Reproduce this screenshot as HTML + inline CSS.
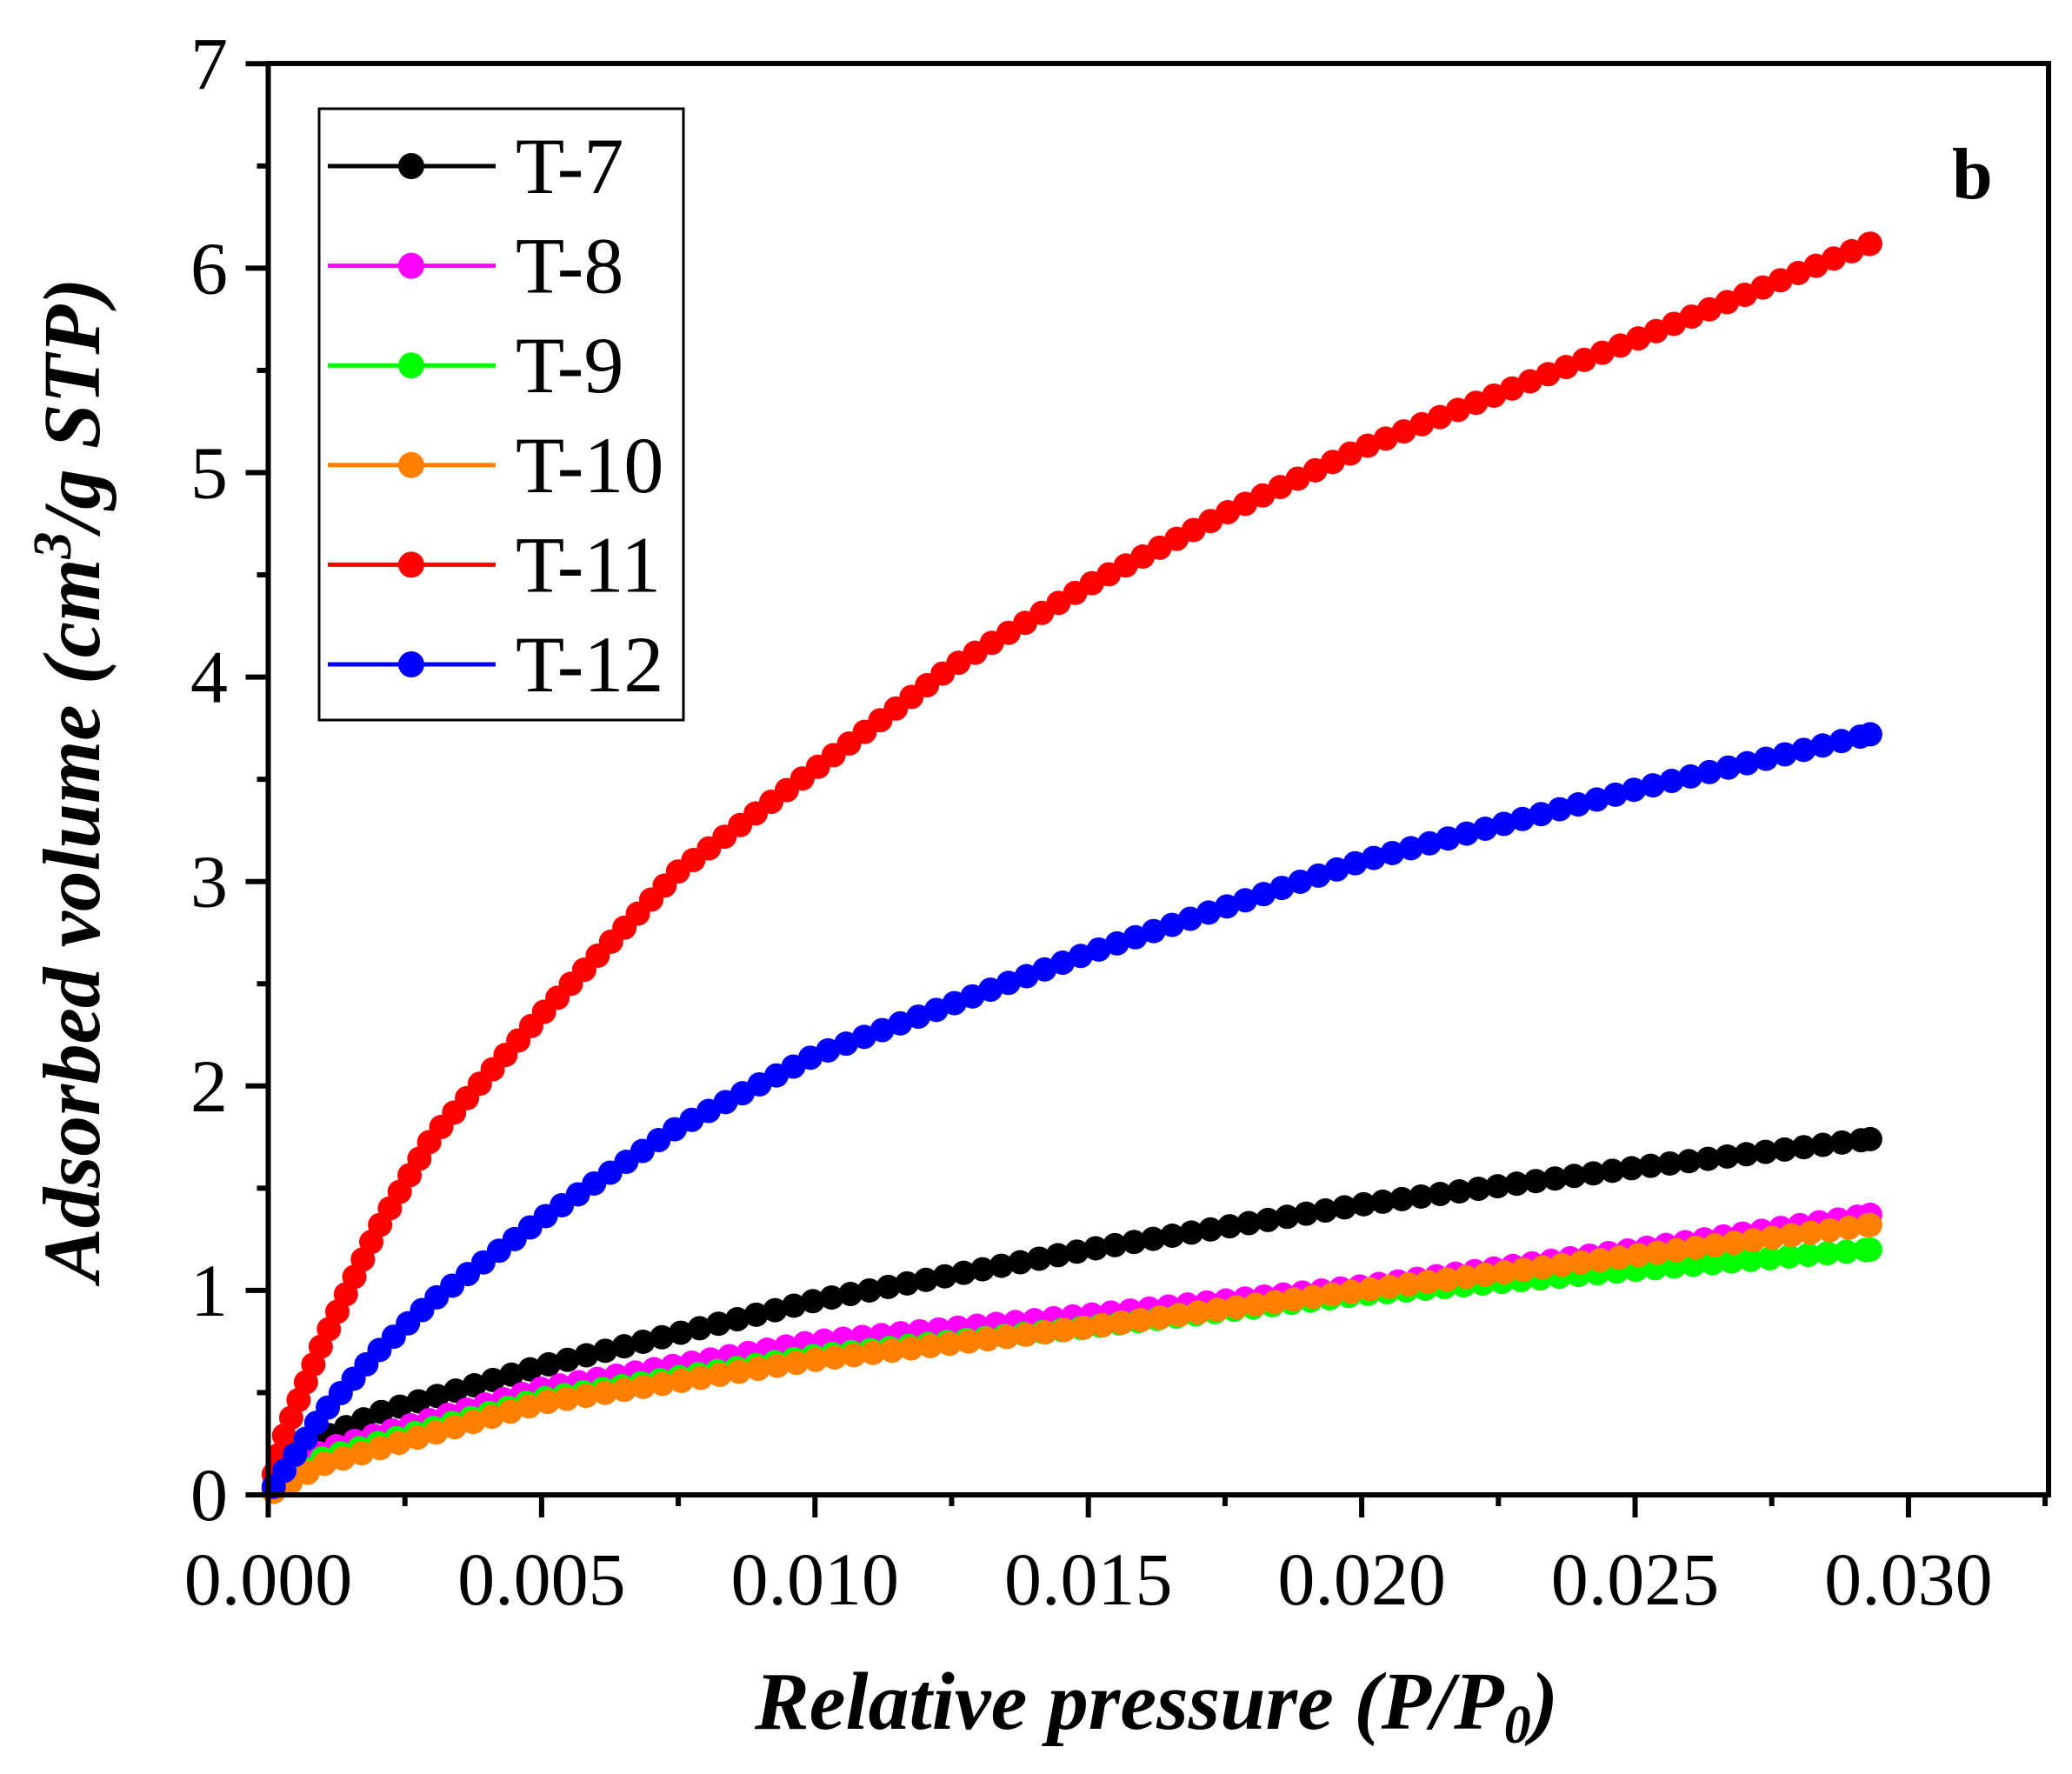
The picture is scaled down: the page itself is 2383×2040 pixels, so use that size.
<!DOCTYPE html>
<html><head><meta charset="utf-8"><style>
html,body{margin:0;padding:0;background:#fff;}
svg{display:block;}
text{font-family:"Liberation Serif",serif;fill:#000;}
</style></head><body>
<svg id="s" width="2383" height="2040" viewBox="0 0 2383 2040" xmlns="http://www.w3.org/2000/svg">
<rect width="2383" height="2040" fill="#fff"/>
<g id="curves"></g>
<rect x="308.5" y="73" width="2047.5" height="1646" fill="none" stroke="#000" stroke-width="6"/>
<g id="ticks" stroke="#000" stroke-width="6"></g>
<g id="labels" font-size="86"></g>
<text x="1330" y="1988" font-size="94" font-weight="bold" font-style="italic" text-anchor="middle">Relative pressure (P/P<tspan font-size="62" dy="16">0</tspan><tspan dy="-16">)</tspan></text>
<text transform="translate(114,897) rotate(-90)" font-size="93" font-weight="bold" font-style="italic" text-anchor="middle">Adsorbed volume (cm<tspan font-size="62" dy="-33">3</tspan><tspan dy="33">/g STP)</tspan></text>
<text x="2245" y="228" font-size="84" font-weight="bold">b</text>
<rect x="367" y="125" width="419" height="703" fill="#fff" stroke="#000" stroke-width="3"/>
<g id="legend" font-size="92"></g>
</svg>
<script>
const X0=308.5,XS=314.4/0.005,Y0=1719,YS=235.1;
const px=x=>X0+x*XS, py=y=>Y0-y*YS;
const NS="http://www.w3.org/2000/svg";
function el(t,a,p){const e=document.createElementNS(NS,t);for(const k in a)e.setAttribute(k,a[k]);p.appendChild(e);return e;}
const series=[
["T-7","#000",[[0,0],[0.001,0.28],[0.002,0.4],[0.005,0.63],[0.01,0.95],[0.015,1.2],[0.02,1.42],[0.025,1.6],[0.0293,1.74]]],
["T-8","#ff00ff",[[0,0],[0.001,0.22],[0.005,0.52],[0.01,0.75],[0.015,0.88],[0.02,1.02],[0.025,1.2],[0.0293,1.37]]],
["T-9","#00ff00",[[0,0],[0.001,0.18],[0.005,0.47],[0.01,0.68],[0.015,0.82],[0.02,0.98],[0.025,1.1],[0.0293,1.2]]],
["T-10","#ff8000",[[0,0],[0.001,0.15],[0.005,0.45],[0.01,0.66],[0.015,0.82],[0.02,1.0],[0.025,1.17],[0.0293,1.32]]],
["T-11","#ff0000",[[0,0],[0.0003,0.3],[0.001,0.75],[0.002,1.3],[0.003,1.75],[0.005,2.35],[0.0075,3.05],[0.01,3.55],[0.0125,4.05],[0.015,4.45],[0.0175,4.8],[0.02,5.12],[0.025,5.65],[0.0293,6.12]]],
["T-12","#0000ff",[[0,0],[0.001,0.4],[0.002,0.7],[0.003,0.95],[0.005,1.35],[0.0075,1.8],[0.01,2.15],[0.015,2.65],[0.02,3.1],[0.025,3.45],[0.0293,3.72]]]
];
function interp(p,x){for(let i=1;i<p.length;i++){if(x<=p[i][0]){const a=p[i-1],b=p[i];return a[1]+(b[1]-a[1])*(x-a[0])/(b[0]-a[0]);}}return p[p.length-1][1];}
const cg=document.getElementById("curves");
series.forEach(([n,c,p])=>{
  const fine=[];for(let x=0.0001;x<=0.0293;x+=0.000005)fine.push([px(x),py(interp(p,x))]);
  const pts=[fine[0]];let acc=0;
  for(let i=1;i<fine.length;i++){acc+=Math.hypot(fine[i][0]-fine[i-1][0],fine[i][1]-fine[i-1][1]);if(acc>=22){pts.push(fine[i]);acc=0;}}
  pts.push([px(0.0293),py(interp(p,0.0293))]);
  el("polyline",{points:fine.map(q=>q.join(",")).join(" "),fill:"none",stroke:c,"stroke-width":4},cg);
  pts.forEach(q=>el("circle",{cx:q[0],cy:q[1],r:14,fill:c},cg));
});
const tg=document.getElementById("ticks"),lg=document.getElementById("labels");
for(let i=0;i<=13;i++){const x=px(i*0.0025);const L=i%2?13:26;
  el("line",{x1:x,y1:1719,x2:x,y2:1719+L},tg);
  if(i%2==0){const t=el("text",{x:x,y:1845,"text-anchor":"middle"},lg);t.textContent=(i*0.0025).toFixed(3);}}
for(let i=0;i<=14;i++){const y=py(i*0.5);const L=i%2?13:26;
  el("line",{x1:308.5,y1:y,x2:308.5-L,y2:y},tg);
  if(i%2==0){const t=el("text",{x:262,y:y+29,"text-anchor":"end"},lg);t.textContent=i/2;}}
const leg=document.getElementById("legend");
series.forEach(([n,c],i)=>{const y=191+i*114.6;
  el("line",{x1:377,y1:y,x2:570,y2:y,stroke:c,"stroke-width":5},leg);
  el("circle",{cx:473,cy:y,r:15,fill:c},leg);
  const t=el("text",{x:593,y:y+31},leg);t.textContent=n;});
</script>
</body></html>
